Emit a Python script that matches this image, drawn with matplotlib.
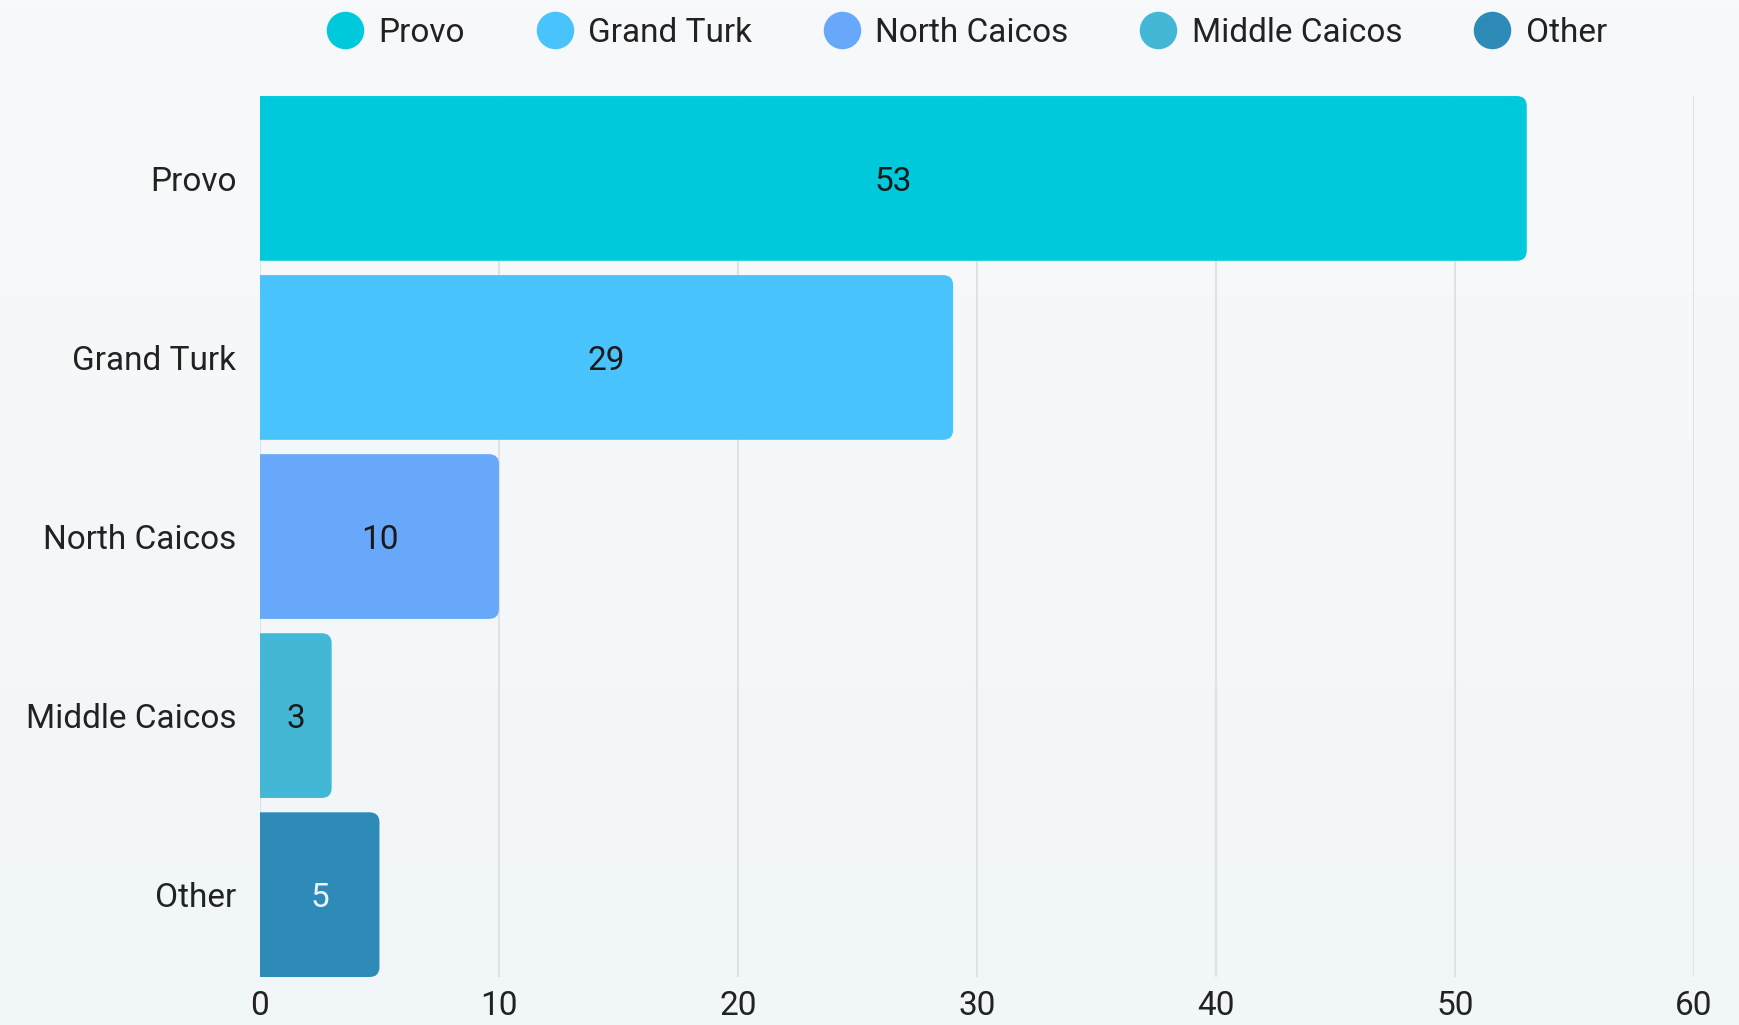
import matplotlib
matplotlib.use("Agg")
import matplotlib.pyplot as plt
import numpy as np
from matplotlib.patches import FancyBboxPatch
from matplotlib.lines import Line2D
from matplotlib.colors import LinearSegmentedColormap

categories = ["Provo", "Grand Turk", "North Caicos", "Middle Caicos", "Other"]
values = [53, 29, 10, 3, 5]
colors = ["#00C9DC", "#48C3FC", "#67A8FA", "#42B8D6", "#2E8BB8"]
label_colors = ["#1a1a1a", "#1a1a1a", "#1a1a1a", "#1a1a1a", "#EAF4FA"]
xticks = [0, 10, 20, 30, 40, 50, 60]

plt.rcParams["font.family"] = ["Roboto", "DejaVu Sans"]
FS = 24

fig = plt.figure(figsize=(17.4, 10.25), dpi=100)
fig.patch.set_facecolor("#F6F8FA")

# subtle vertical background gradient
bg = fig.add_axes([0, 0, 1, 1], zorder=-10)
grad = np.linspace(0, 1, 256).reshape(-1, 1)
cmap = LinearSegmentedColormap.from_list("bg", ["#F8F9FB", "#F1F6F8"])
bg.imshow(grad, aspect="auto", cmap=cmap, extent=[0, 1, 0, 1])
bg.axis("off")

ax = fig.add_axes([0.1494, 0.0468, 0.8242, 0.8595])
ax.set_facecolor("none")

bar_h = 0.92
bars = ax.barh(categories, values, height=bar_h, color=colors)

ax.set_xlim(0, 60)
ax.set_ylim(len(categories) - 1 + bar_h / 2, -bar_h / 2)

# replace plain bars with right-rounded ones
fig.canvas.draw()
bbox = ax.get_window_extent()
px_per_x = bbox.width / 60
px_per_y = bbox.height / (len(categories) - 1 + bar_h)
rad_px = 10
r = rad_px / px_per_x
for rect, c in zip(bars, colors):
    x0, y0 = rect.get_x(), rect.get_y()
    w, h = rect.get_width(), rect.get_height()
    rect.set_visible(False)
    p = FancyBboxPatch((x0 - 2 * r, y0), w + 2 * r, h,
                       boxstyle=f"round,pad=0,rounding_size={r}",
                       mutation_aspect=px_per_x / px_per_y,
                       facecolor=c, edgecolor="none", zorder=3)
    ax.add_patch(p)
    p.set_clip_path(ax.patch)

for i, (v, lc) in enumerate(zip(values, label_colors)):
    ax.text(v / 2, i, str(v), ha="center", va="center_baseline", fontsize=FS,
            color=lc, zorder=4)

ax.set_xticks(xticks)
ax.grid(axis="x", color="#DFE2E5", linewidth=1.5, zorder=0)
ax.set_axisbelow(True)
for s in ax.spines.values():
    s.set_visible(False)
ax.tick_params(axis="both", length=0, labelsize=FS, colors="#222222")
ax.tick_params(axis="y", pad=17)
ax.tick_params(axis="x", pad=9)

handles = [Line2D([], [], marker="o", linestyle="none", markersize=27,
                  markerfacecolor=c, markeredgecolor="none") for c in colors]
fig.legend(handles, categories, loc="center", ncol=5,
           bbox_to_anchor=(0.556, 0.968), frameon=False, fontsize=FS,
           handlelength=1.0, handletextpad=0.5, columnspacing=2.2,
           labelcolor="#222222")

fig.savefig("out.png", dpi=100, facecolor=fig.get_facecolor())
